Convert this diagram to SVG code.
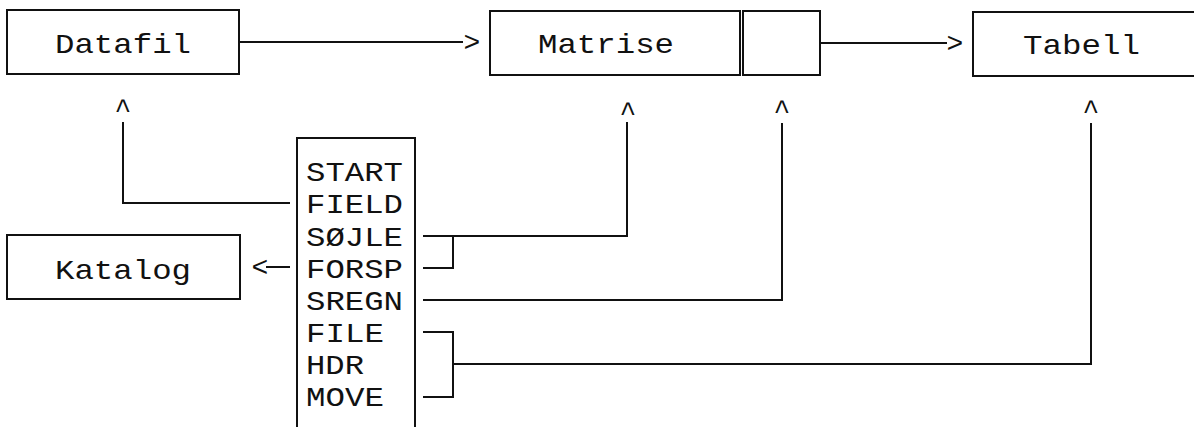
<svg xmlns="http://www.w3.org/2000/svg" width="1194" height="427" viewBox="0 0 1194 427">
<style>
.bx{fill:none;stroke:#111;stroke-width:2}
.ln{fill:none;stroke:#111;stroke-width:2}
text{font-family:"Liberation Mono","Courier New",monospace;font-size:28px;fill:#111}
.sm{font-size:26px}
</style>
<rect width="1194" height="427" fill="#fff"/>
<g id="datafil">
<rect class="bx" x="7" y="10" width="232" height="64"/>
<text x="55" y="53" textLength="136" lengthAdjust="spacingAndGlyphs">Datafil</text>
</g>
<g id="matrise">
<rect class="bx" x="490" y="11" width="250" height="64"/>
<rect class="bx" x="743" y="11" width="77" height="64"/>
<text x="538" y="53" textLength="136" lengthAdjust="spacingAndGlyphs">Matrise</text>
</g>
<g id="tabell">
<rect class="bx" x="973" y="12" width="240" height="64"/>
<text x="1023" y="54" textLength="117" lengthAdjust="spacingAndGlyphs">Tabell</text>
</g>
<g id="katalog">
<rect class="bx" x="7" y="235" width="233" height="64"/>
<text x="55" y="279" textLength="136" lengthAdjust="spacingAndGlyphs">Katalog</text>
</g>
<g id="kommandoer">
<polyline class="bx" points="297,440 297,138 415,138 415,440"/>
<text x="306" y="181" textLength="97" lengthAdjust="spacingAndGlyphs">START</text>
<text x="306" y="213" textLength="97" lengthAdjust="spacingAndGlyphs">FIELD</text>
<text x="306" y="246" textLength="97" lengthAdjust="spacingAndGlyphs">SØJLE</text>
<text x="306" y="278" textLength="97" lengthAdjust="spacingAndGlyphs">FORSP</text>
<text x="306" y="310" textLength="97" lengthAdjust="spacingAndGlyphs">SREGN</text>
<text x="306" y="342" textLength="78" lengthAdjust="spacingAndGlyphs">FILE</text>
<text x="306" y="374" textLength="58" lengthAdjust="spacingAndGlyphs">HDR</text>
<text x="306" y="406" textLength="78" lengthAdjust="spacingAndGlyphs">MOVE</text>
</g>
<g id="connectors">
<line class="ln" x1="239" y1="42" x2="463" y2="42"/>
<text x="472" y="51" text-anchor="middle">&gt;</text>
<line class="ln" x1="820" y1="43" x2="947" y2="43"/>
<text x="955" y="52" text-anchor="middle">&gt;</text>
<text x="123" y="118" text-anchor="middle">^</text>
<text x="628" y="121" text-anchor="middle">^</text>
<text x="782" y="119" text-anchor="middle">^</text>
<text x="1091" y="119" text-anchor="middle">^</text>
<polyline class="ln" points="123,122 123,203 290,203"/>
<polyline class="ln" points="423,236 627,236 627,122"/>
<polyline class="ln" points="423,268 453,268 453,236"/>
<polyline class="ln" points="423,300 782,300 782,123"/>
<polyline class="ln" points="423,332 453,332 453,397 423,397"/>
<polyline class="ln" points="453,364 1091,364 1091,123"/>
<text x="260" y="276" text-anchor="middle">&lt;</text>
<line class="ln" x1="266" y1="267" x2="290" y2="267"/>
</g>
</svg>
